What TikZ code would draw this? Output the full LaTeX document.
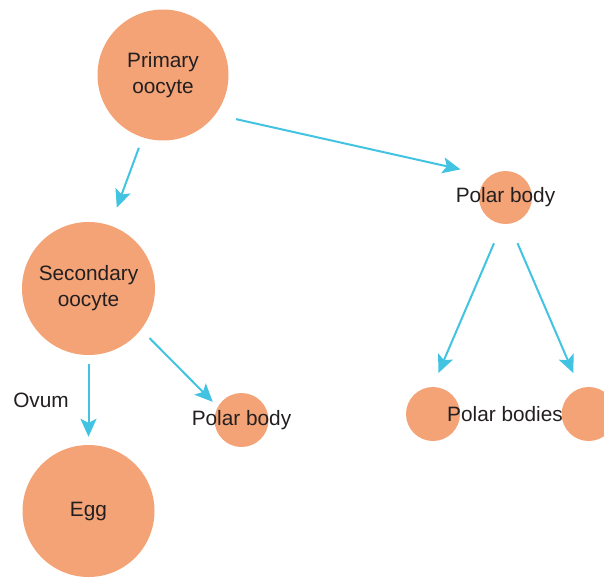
\documentclass[tikz,border=0pt]{standalone}
\usepackage{fontspec}
\setmainfont{Liberation Sans}
\usetikzlibrary{arrows.meta, positioning}
\definecolor{cellorange}{HTML}{F4A376}
\definecolor{arrowcyan}{HTML}{42C3E1}
\definecolor{labelgray}{HTML}{231F20}

\begin{document}
\begin{tikzpicture}[
    x=1pt, y=-1pt,
    every node/.style={align=center, font=\fontsize{20.8}{26}\selectfont, text=labelgray},
    arrow/.style={-{Stealth[length=18pt, width=16pt, inset=4pt]}, line width=2pt, draw=arrowcyan},
    cell/.style={circle, fill=cellorange, inner sep=0pt}
]
\useasboundingbox (0,0) rectangle (604,578);

\node[cell, minimum size=131pt] (P) at (163,75) {Primary\\oocyte};
\node[cell, minimum size=133pt] (S) at (88.5,288.5) {Secondary\\oocyte};
\node[cell, minimum size=132pt] (E) at (88.5,511) {Egg};
\node[cell, minimum size=54pt] (PB2) at (241.5,420) {};
\node[cell, minimum size=53pt] (PB1) at (505.5,197.5) {};
\node[cell, minimum size=54pt] (PL) at (433,414) {};
\node[cell, minimum size=54pt] (PR) at (588.7,414) {};

\node at (PB1) {Polar body};
\node at (PB2) {Polar body};
\node (PBS) at (505,414) {Polar bodies};
\node (OV) at (41,400) {Ovum};

\draw[arrow, shorten <=11pt, shorten >=19pt] (P.-108) -- (S.71);
\draw[arrow, shorten <=21pt, shorten >=30pt] (P.-37) -- (PB1.126);
\draw[arrow, shorten <=12pt, shorten >=7pt] (S.-38) -- (PB2.151);
\draw[arrow, shorten <=9pt, shorten >=8pt] (S.south) -- (E.north);
\draw[arrow, shorten <=21pt, shorten >=15pt] (PB1.-97) -- (PL.91);
\draw[arrow, shorten <=21pt, shorten >=16.5pt] (PB1.-82) -- (PR.109);
\end{tikzpicture}
\end{document}
